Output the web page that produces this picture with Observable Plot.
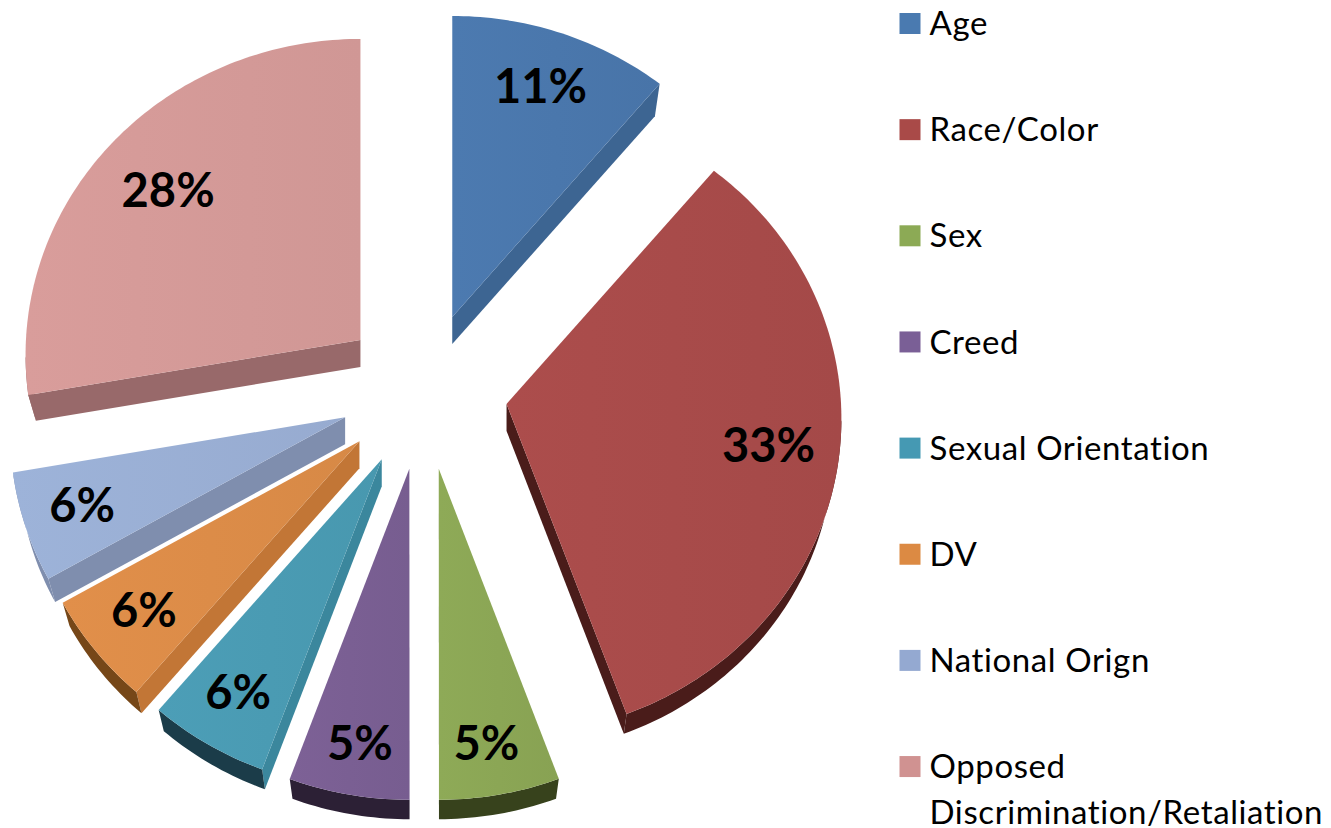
<!DOCTYPE html>
<html>
<head>
<meta charset="utf-8">
<script src="https://cdn.jsdelivr.net/npm/d3@7"></script>
<script src="https://cdn.jsdelivr.net/npm/@observablehq/plot@0.6"></script>
<style>
html,body{margin:0;padding:0;background:#fff}
svg{display:block}
</style>
</head>
<body>
<div id="chart"></div>
<script>
const categories = ["Age","Race/Color","Sex","Creed","Sexual Orientation","DV","National Orign","Opposed Discrimination/Retaliation"];
const shares = [11.11,33.33,5.56,5.56,5.56,5.56,5.56,27.78];
const valueLabels = ["11%","33%","5%","5%","6%","6%","6%","28%"];
const legendLines = [["Age"],["Race/Color"],["Sex"],["Creed"],["Sexual Orientation"],["DV"],["National Orign"],["Opposed","Discrimination/Retaliation"]];
const topColors = ["#4a77ac","#a84b4a","#8ba655","#7a5f93","#4a9bb3","#dc8c48","#9aafd4","#d49a98"];
const cutColors = ["#3d6592","#4a1c1a","#37421c","#2c2035","#3b879d","#c27636","#7f8eae","#98696a"];
const rimColors = ["#3d6592","#4a1c1a","#37421c","#2c2035","#1b3c49","#764718","#7f8eae","#98696a"];
const legendColors = ["#4a7ab0","#a94a48","#8caa55","#7a5f96","#4599b3","#dc8a43","#94a9d1","#d09291"];
// how far along each slice's radius its percentage sits, and its turn off the slice's middle (degrees)
const labelRadii = [0.80,0.79,0.853,0.853,0.83,0.82,0.825,0.76];
const labelTurns = [0,0,0.8,-0.4,0,0,0,-0.7];

// perspective projection of the pie's plane
const cx = 423.5, cy = 389.7, rx = 334.5, ry = 315.3, persp = 0.0476;
const explode = 0.25, depth = 27, underScale = 0.977;
const polar = (a, f) => {
  const X = f * Math.sin(a), Y = f * Math.cos(a), w = 1 + persp * Y;
  return [rx * X / w, -ry * Y / w];
};
const arcs = d3.pie().sort(null)(shares);
const polys = [], labels = [];
const pt = p => ({x: p[0], y: p[1]});
arcs.forEach((arc, i) => {
  const mid = (arc.startAngle + arc.endAngle) / 2;
  const off = polar(mid, explode);
  const apex = [cx + off[0], cy + off[1]];
  const n = Math.round((arc.endAngle - arc.startAngle) * 180 / Math.PI);
  const rim = d3.range(n + 1).map(j => {
    const a = arc.startAngle + (arc.endAngle - arc.startAngle) * j / n;
    const p = polar(a, 1);
    return [apex[0] + p[0], apex[1] + p[1]];
  });
  const under = p => [apex[0] + (p[0] - apex[0]) * underScale, apex[1] + (p[1] - apex[1]) * underScale + depth];
  const quad = (a, b) => [a, b, under(b), under(a)];
  const first = rim[0], last = rim[rim.length - 1];
  if (first[0] < apex[0]) polys.push({pts: quad(apex, first), fill: cutColors[i]});
  if (apex[0] < last[0]) polys.push({pts: quad(last, apex), fill: cutColors[i]});
  const run = rim.filter((p, j) => (j > 0 && p[0] < rim[j - 1][0]) || (j < n && rim[j + 1][0] < p[0]));
  if (run.length > 1) polys.push({pts: [...run, ...run.slice().reverse().map(under)], fill: rimColors[i]});
  polys.push({pts: [apex, ...rim], fill: `url(#top${i})`});
  const lp = polar(mid + labelTurns[i] * Math.PI / 180, labelRadii[i]);
  labels.push({x: apex[0] + lp[0], y: apex[1] + lp[1], text: valueLabels[i]});
});

const defs = () => {
  const d = d3.create("svg:defs");
  topColors.forEach((c, i) => {
    const g = d.append("linearGradient").attr("id", `top${i}`);
    g.append("stop").attr("offset", "0").attr("stop-color", d3.color(c).brighter(0.06).formatHex());
    g.append("stop").attr("offset", "1").attr("stop-color", d3.color(c).darker(0.06).formatHex());
  });
  return d.node();
};

const legendY = i => 24 + i * 106.15;
const legendSwatches = categories.map((c, i) => ({x: 909.5, y: legendY(i) - 1, fill: legendColors[i]}));
const legendText = legendLines.flatMap((lines, i) => lines.map((t, j) => ({x: 929, y: legendY(i) + j * 46, text: t})));

const chart = Plot.plot({
  width: 1331, height: 828, margin: 0,
  style: {background: "#fff"},
  x: {domain: [0, 1331], range: [0, 1331], axis: null},
  y: {domain: [0, 828], range: [0, 828], axis: null},
  marks: [
    defs,
    ...polys.map(p => Plot.line(p.pts.map(pt), {x: "x", y: "y", fill: p.fill, stroke: "none"})),
    Plot.text(labels, {x: "x", y: "y", text: "text", fontFamily: "Lato", fontWeight: 700, fontSize: 47, fill: "#000", textAnchor: "middle", lineAnchor: "middle"}),
    ...legendSwatches.map(s => Plot.dot([s], {x: "x", y: "y", symbol: "square", r: 11.85, fill: s.fill, stroke: "none"})),
    Plot.text(legendText, {x: "x", y: "y", text: "text", fontFamily: "Lato", fontSize: 33, fill: "#000", textAnchor: "start", lineAnchor: "middle"})
  ]
});
const legendStrings = new Set(legendLines.flat());
d3.select(chart).selectAll("text")
  .filter(function () { return legendStrings.has(this.textContent); })
  .style("letter-spacing", "0.6px")
  .style("font-variant-ligatures", "none");
document.getElementById("chart").appendChild(chart);
</script>
</body>
</html>
